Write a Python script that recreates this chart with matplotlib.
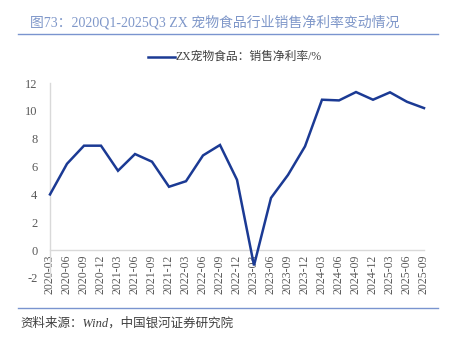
import matplotlib
matplotlib.use("Agg")
import matplotlib.pyplot as plt
from matplotlib.lines import Line2D

plt.rcParams['font.family'] = ['Liberation Serif', 'Noto Sans CJK SC', 'DejaVu Sans']

categories = ["2020-03", "2020-06", "2020-09", "2020-12", "2021-03", "2021-06", "2021-09", "2021-12",
              "2022-03", "2022-06", "2022-09", "2022-12", "2023-03", "2023-06", "2023-09", "2023-12",
              "2024-03", "2024-06", "2024-09", "2024-12", "2025-03", "2025-06", "2025-09"]
net_margin = [4.0, 6.2, 7.5, 7.5, 5.7, 6.9, 6.35, 4.55,
              4.95, 6.8, 7.55, 5.05, -1.1, 3.75, 5.4, 7.45,
              10.8, 10.75, 11.35, 10.8, 11.33, 10.65, 10.2]
yticks = [-2, 0, 2, 4, 6, 8, 10, 12]
title = "图73：2020Q1-2025Q3 ZX 宠物食品行业销售净利率变动情况"
series_name = "ZX宠物食品：销售净利率/%"
source = "资料来源：Wind，中国银河证券研究院"

W, H = 452, 343
fig = plt.figure(figsize=(W / 100, H / 100), dpi=100)
ax = fig.add_axes([50 / W, 1 - 278 / H, (424 - 50) / W, (278 - 83) / H])

for s in ['top', 'right']:
    ax.spines[s].set_visible(False)
ax.spines['bottom'].set_position(('data', 0))
ax.spines['bottom'].set_color('#d9d9d9')
ax.spines['bottom'].set_linewidth(1.0)
ax.spines['left'].set_color('#d9d9d9')
ax.spines['left'].set_linewidth(1.0)

line_color = '#1b3a94'
x = list(range(len(categories)))
ax.plot(x, net_margin, color=line_color, lw=1.8, solid_joinstyle='miter', zorder=3, clip_on=False)

ax.set_xlim(0, len(categories) - 1)
ax.set_ylim(-2, 12)
ax.set_yticks(yticks)
ax.set_yticklabels([str(v) for v in yticks], fontsize=9, color='#595959')
ax.set_xticks(x)
ax.set_xticklabels(categories, rotation=90, fontsize=8.5, color='#595959', va='top', ha='center')
ax.tick_params(axis='both', length=0)
ax.tick_params(axis='y', pad=9)
ax.tick_params(axis='x', pad=3)

# title
fig.text(30 / W, 1 - 22 / H, title, fontsize=10, color='#7f97c9', va='center', ha='left')
fig.add_artist(Line2D([18 / W, 438 / W], [1 - 34 / H, 1 - 34 / H], color='#7a94cf', lw=1.0))

# legend
ly = 1 - 57 / H
fig.add_artist(Line2D([148 / W, 175 / W], [ly, ly], color=line_color, lw=1.8))
fig.text(176 / W, ly, series_name, fontsize=8.5, color='#404040', va='center', ha='left')

# footer
fig.add_artist(Line2D([18 / W, 438 / W], [1 - 308 / H, 1 - 308 / H], color='#7a94cf', lw=1.0))
fig.text(20 / W, 1 - 323 / H, source, fontsize=9, color='#404040', va='center', ha='left', style='italic')

fig.savefig('out.png', dpi=100)
